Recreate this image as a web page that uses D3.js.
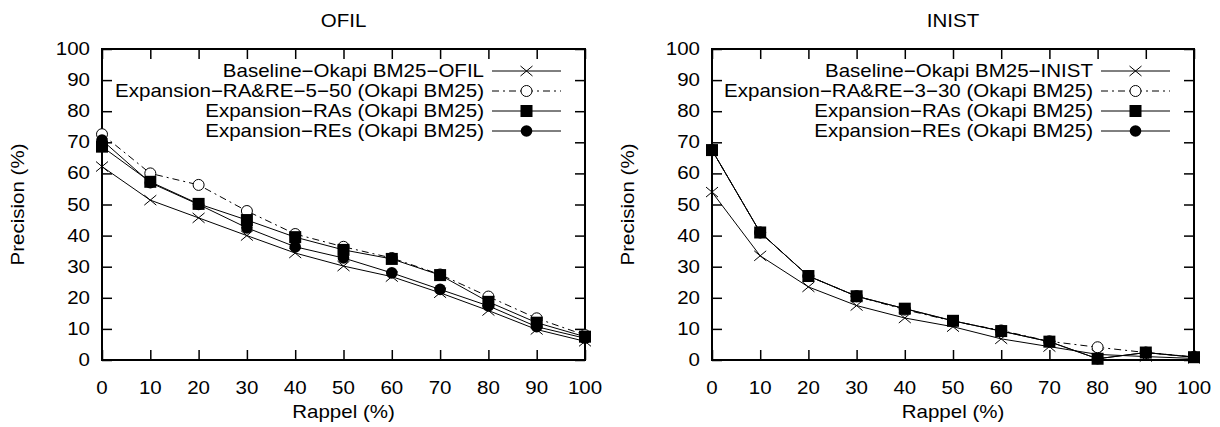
<!DOCTYPE html>
<html>
<head>
<meta charset="utf-8">
<script src="https://cdn.jsdelivr.net/npm/d3@7"></script>
<style>
  body { margin: 0; background: #fff; }
  text { font-family: "Liberation Sans", Arial, sans-serif; font-size: 18px; fill: #000; }
</style>
</head>
<body>
<script>
// recall levels (x axis), shared by both panels
var recall = [0,10,20,30,40,50,60,70,80,90,100];
var yTicks = [0,10,20,30,40,50,60,70,80,90,100];

// OFIL panel
var ofilNames = ["Baseline\u2212Okapi BM25\u2212OFIL","Expansion\u2212RA&RE\u22125\u221250 (Okapi BM25)","Expansion\u2212RAs (Okapi BM25)","Expansion\u2212REs (Okapi BM25)"];
var ofilBase  = [62.2,51.4,45.7,40,34.4,30.2,26.8,21.6,15.9,9.8,6];
var ofilRARE  = [72.6,60,56.3,47.9,40.5,36.4,32.8,27.5,20.4,13.4,8];
var ofilRAs   = [68.6,57.3,50.2,45,39.5,35.4,32.5,27.3,18.7,12,7.5];
var ofilREs   = [70.7,57,50,42.5,36.4,32.8,28,22.7,17.4,10.7,7];

// INIST panel
var inistNames = ["Baseline\u2212Okapi BM25\u2212INIST","Expansion\u2212RA&RE\u22123\u221230 (Okapi BM25)","Expansion\u2212RAs (Okapi BM25)","Expansion\u2212REs (Okapi BM25)"];
var inistBase = [54,33.5,23.5,17.5,13.5,10.7,6.8,4.3,1.8,1.1,0.5];
var inistRARE = [67.5,41,27,20.5,16.2,12.5,9.5,6,4.1,2.4,1];
var inistRAs  = [67.5,41,27,20.5,16.5,12.6,9.3,5.9,0.4,2.4,0.9];
var inistREs  = [67.5,41,27,20.5,16.5,12.6,9.3,5.9,0.4,2.4,0.9];

var markers = ["cross","open","square","dot"];
var dashes = [null,"7,4,2,4",null,null];
var SX = 1.14; // text in the original is a bit wide

var svg = d3.select("body").append("svg").attr("width",1220).attr("height",427);

function label(g, x, y, txt, anchor, rot) {
  var t = g.append("text")
    .attr("transform","translate("+x+","+y+")"+(rot ? " rotate("+rot+")" : "")+" scale("+SX+",1)")
    .attr("text-anchor",anchor)
    .attr("dominant-baseline","central")
    .text(txt);
  return t;
}

function drawMarker(g, type, cx, cy) {
  if (type == "cross") {
    g.append("path").attr("d","M"+(cx-6)+","+(cy-5)+"L"+(cx+6)+","+(cy+5)+"M"+(cx-6)+","+(cy+5)+"L"+(cx+6)+","+(cy-5))
      .attr("stroke","#000").attr("stroke-width",1).attr("fill","none");
  } else if (type == "open") {
    g.append("circle").attr("cx",cx).attr("cy",cy).attr("r",5.5).attr("fill","#fff").attr("stroke","#000").attr("stroke-width",1);
  } else if (type == "square") {
    g.append("rect").attr("x",cx-6).attr("y",cy-6).attr("width",12).attr("height",12).attr("fill","#000");
  } else {
    g.append("circle").attr("cx",cx).attr("cy",cy).attr("r",5.8).attr("fill","#000");
  }
}

function panel(left, right, title, names, series) {
  var top = 49, bottom = 360;
  var x = d3.scaleLinear().domain([0,100]).range([left,right]);
  var y = d3.scaleLinear().domain([0,100]).range([bottom,top]);
  var g = svg.append("g");

  // ticks on all four sides, pointing in
  g.append("g").attr("transform","translate(0,"+bottom+")").call(d3.axisBottom(x).tickValues(recall).tickSizeInner(-10).tickSizeOuter(0).tickFormat(""));
  g.append("g").attr("transform","translate(0,"+top+")").call(d3.axisTop(x).tickValues(recall).tickSizeInner(-10).tickSizeOuter(0).tickFormat(""));
  g.append("g").attr("transform","translate("+left+",0)").call(d3.axisLeft(y).tickValues(yTicks).tickSizeInner(-10).tickSizeOuter(0).tickFormat(""));
  g.append("g").attr("transform","translate("+right+",0)").call(d3.axisRight(y).tickValues(yTicks).tickSizeInner(-10).tickSizeOuter(0).tickFormat(""));
  g.selectAll(".domain").remove();
  g.selectAll(".tick line").attr("stroke","#000").attr("stroke-width",1.5);

  g.append("rect").attr("x",left).attr("y",top).attr("width",right-left).attr("height",bottom-top)
    .attr("fill","none").attr("stroke","#000").attr("stroke-width",2);

  recall.forEach(function(v){ label(g, x(v), 388, v, "middle"); });
  yTicks.forEach(function(v){ label(g, left-12, y(v), v, "end"); });

  label(g, (left+right)/2, 21, title, "middle");
  label(g, (left+right)/2, 412, "Rappel (%)", "middle");
  label(g, left-84, (top+bottom)/2, "Precision (%)", "middle", -90);

  var line = d3.line().x(function(d,i){ return x(recall[i]); }).y(function(d){ return y(d); });

  series.forEach(function(s, k) {
    g.append("path").datum(s).attr("d",line).attr("fill","none").attr("stroke","#000").attr("stroke-width",1)
      .attr("stroke-dasharray",dashes[k]);
    s.forEach(function(d,i){ drawMarker(g, markers[k], x(recall[i]), y(d)); });

    // legend row
    var ly = top + 22 + k*20;
    var l1 = right - 93, l2 = right - 24;
    g.append("line").attr("x1",l1).attr("x2",l2).attr("y1",ly).attr("y2",ly)
      .attr("stroke","#000").attr("stroke-width",1).attr("stroke-dasharray",dashes[k]);
    drawMarker(g, markers[k], (l1+l2)/2, ly);
    label(g, l1-8, ly, names[k], "end");
  });
}

panel(102, 585, "OFIL", ofilNames, [ofilBase, ofilRARE, ofilRAs, ofilREs]);
panel(712, 1194, "INIST", inistNames, [inistBase, inistRARE, inistRAs, inistREs]);
</script>
</body>
</html>
